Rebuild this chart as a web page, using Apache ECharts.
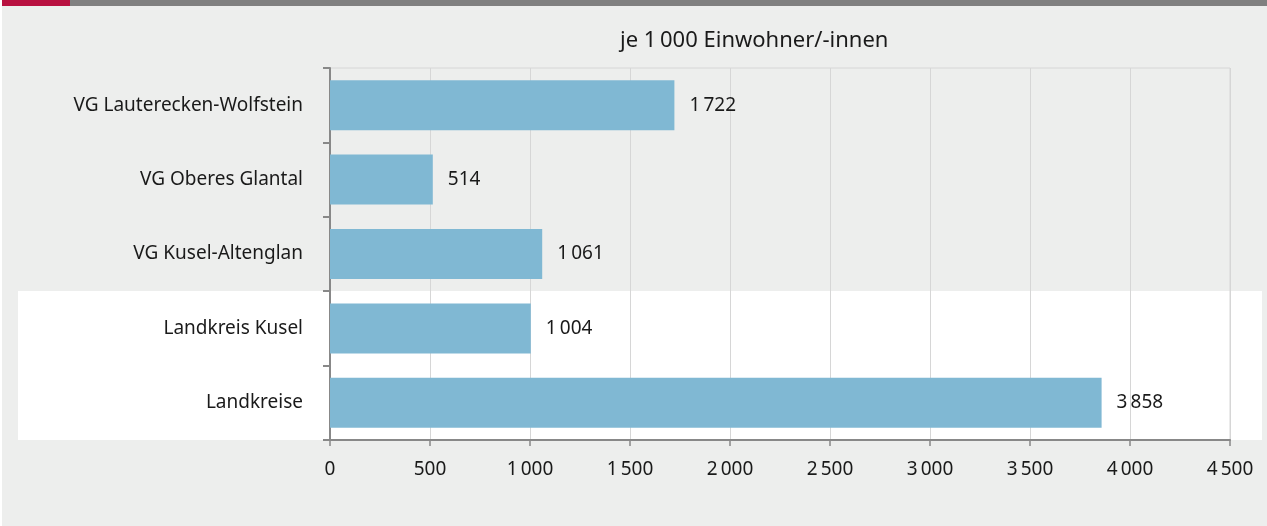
<!DOCTYPE html>
<html><head><meta charset="utf-8">
<script src="https://cdn.jsdelivr.net/npm/echarts@6/dist/echarts.min.js"></script>
<style>html,body{margin:0;padding:0;background:#fff}#c{width:1267px;height:526px}</style>
</head><body><div id="c"></div>
<script>
const categories = ['VG Lauterecken-Wolfstein','VG Oberes Glantal','VG Kusel-Altenglan','Landkreis Kusel','Landkreise'];
const values = [1722, 514, 1061, 1004, 3858];
const title = 'je 1\u2009000 Einwohner/-innen';
function fmt(v){ return String(v).replace(/\B(?=(\d{3})+(?!\d))/g, '\u2009'); }
const FONT = '"Noto Sans", "Open Sans", sans-serif';
const chart = echarts.init(document.getElementById('c'));
chart.setOption({
  backgroundColor: '#edeeed',
  animation: false,
  grid: {left: 330, right: 37, top: 68, bottom: 86, show: true, borderColor: '#d6d6d6', borderWidth: 1, backgroundColor: 'transparent'},
  graphic: [
    {type:'rect', z:-10, shape:{x:0,y:0,width:2,height:526}, style:{fill:'#ffffff'}},
    {type:'rect', z:-10, shape:{x:2,y:0,width:68,height:6}, style:{fill:'#b81140'}},
    {type:'rect', z:-10, shape:{x:70,y:0,width:1197,height:6}, style:{fill:'#808080'}},
    {type:'rect', z:-10, shape:{x:18,y:291,width:1244,height:149}, style:{fill:'#ffffff'}},
    {type:'text', left: 620, top: 30, style:{text: title, font: '22px ' + FONT, fill:'#1a1a1a'}}
  ],
  xAxis: {
    type: 'value', min: 0, max: 4500, interval: 500,
    axisLine: {show: true, lineStyle: {color: '#888', width: 2}},
    axisTick: {show: true, length: 6, lineStyle: {color: '#888', width: 1.5}},
    splitLine: {show: true, lineStyle: {color: '#d6d6d6', width: 1}},
    axisLabel: {margin: 20, color: '#1a1a1a', fontSize: 19, fontFamily: FONT, formatter: v => fmt(v)}
  },
  yAxis: {
    type: 'category', data: categories, inverse: true,
    axisLine: {show: true, lineStyle: {color: '#888', width: 2}},
    axisTick: {show: true, length: 7, lineStyle: {color: '#888', width: 2}},
    splitLine: {show: false},
    axisLabel: {margin: 27, color: '#1a1a1a', fontSize: 19, fontFamily: FONT}
  },
  series: [{
    type: 'bar', data: values, barWidth: 50,
    itemStyle: {color: '#80b8d3'},
    label: {show: true, position: 'right', distance: 15, color: '#1a1a1a', fontSize: 19, fontFamily: FONT, formatter: p => fmt(p.value)}
  }]
});
</script></body></html>
